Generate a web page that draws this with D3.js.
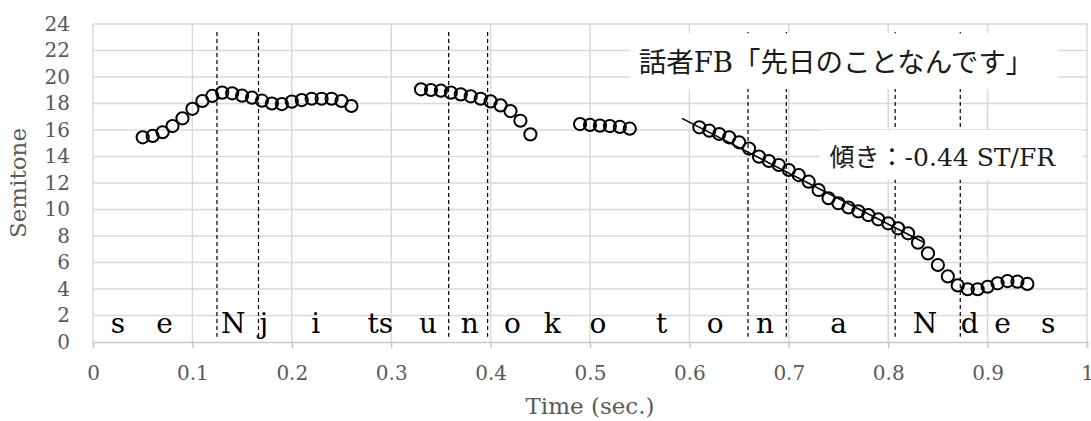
<!DOCTYPE html>
<html><head><meta charset="utf-8">
<script src="https://cdn.jsdelivr.net/npm/d3@7"></script>
<style>body{margin:0;background:#fff} svg{display:block}</style>
</head><body><svg id="c" width="1091" height="421"></svg>
<script>
const xTicks = [0, 0.1, 0.2, 0.3, 0.4, 0.5, 0.6, 0.7, 0.8, 0.9, 1];
const xTickLabels = ["0", "0.1", "0.2", "0.3", "0.4", "0.5", "0.6", "0.7", "0.8", "0.9", "1"];
const yTicks = [0, 2, 4, 6, 8, 10, 12, 14, 16, 18, 20, 22, 24];

const seg1Time = [0.05,0.06,0.07,0.08,0.09,0.10,0.11,0.12,0.13,0.14,0.15,0.16,0.17,0.18,0.19,0.20,0.21,0.22,0.23,0.24,0.25,0.26];
const seg1Pitch = [15.45,15.55,15.83,16.3,16.88,17.6,18.19,18.57,18.82,18.77,18.59,18.44,18.21,18.0,17.96,18.14,18.26,18.36,18.36,18.36,18.19,17.81];
const seg2Time = [0.33,0.34,0.35,0.36,0.37,0.38,0.39,0.40,0.41,0.42,0.43,0.44];
const seg2Pitch = [19.07,19.02,18.97,18.82,18.69,18.54,18.36,18.16,17.86,17.43,16.7,15.67];
const seg3Time = [0.49,0.50,0.51,0.52,0.53,0.54];
const seg3Pitch = [16.45,16.38,16.33,16.3,16.23,16.1];
const seg4Time = [0.61,0.62,0.63,0.64,0.65,0.66,0.67,0.68,0.69,0.70,0.71,0.72,0.73,0.74,0.75,0.76,0.77,0.78,0.79,0.80,0.81,0.82,0.83,0.84,0.85,0.86,0.87,0.88,0.89,0.90,0.91,0.92,0.93,0.94];
const seg4Pitch = [16.2,15.95,15.7,15.45,15.07,14.6,13.99,13.66,13.36,12.98,12.6,12.1,11.47,10.85,10.47,10.15,9.86,9.58,9.26,8.96,8.58,8.2,7.5,6.69,5.81,4.95,4.27,3.98,3.98,4.17,4.43,4.6,4.55,4.38];

const fitTime = [0.5925, 0.837];
const fitPitch = [16.88, 7.47];

const boundaries = [0.1247, 0.1665, 0.3578, 0.397, 0.659, 0.6975, 0.807, 0.8725];
const boundaryRange = [0.4, 23.4];

const phonemes = ["s","e","N","j","i","ts","u","n","o","k","o","t","o","n","a","N","d","e","s"];
const phonemeTimes = [0.025,0.072,0.141,0.172,0.224,0.289,0.337,0.379,0.422,0.462,0.508,0.572,0.626,0.676,0.75,0.837,0.882,0.915,0.961];
const phonemeLevel = 0.7;

const title = "話者FB「先日のことなんです」";
const slopeLabel = "傾き：-0.44 ST/FR";
const xTitle = "Time (sec.)";
const yTitle = "Semitone";

const svg = d3.select("#c");
const L = 93, R = 1087, T = 24, B = 342;
const x = d3.scaleLinear().domain([0, 1]).range([L, R]);
const y = d3.scaleLinear().domain([0, 24]).range([B, T]);
const serif = "'DejaVu Serif', 'Noto Sans CJK JP', serif";
const mixed = "'DejaVu Serif', 'Noto Sans CJK JP', serif";

// gridlines
const grid = svg.append("g");
grid.selectAll("line.h").data(yTicks.filter(d => d > 0)).join("line")
  .attr("x1", L).attr("x2", R).attr("y1", d => y(d)).attr("y2", d => y(d))
  .attr("stroke", "#d9d9d9").attr("stroke-width", 1.5);
grid.selectAll("line.v").data(xTicks).join("line")
  .attr("x1", d => x(d)).attr("x2", d => x(d)).attr("y1", T).attr("y2", B)
  .attr("stroke", "#d9d9d9").attr("stroke-width", 1.5);

// x axis
const xAxis = svg.append("g").attr("transform", `translate(0,${B})`)
  .call(d3.axisBottom(x).tickValues(xTicks).tickFormat((d, i) => xTickLabels[i]).tickSize(6).tickPadding(18));
xAxis.select(".domain").attr("stroke", "#c8c8c8").attr("stroke-width", 1.5);
xAxis.selectAll(".tick line").attr("stroke", "#c8c8c8").attr("stroke-width", 1.5);
xAxis.selectAll("text").attr("fill", "#595959").style("font-family", serif).style("font-size", "20px");

// y axis
const yAxis = svg.append("g").attr("transform", `translate(${L},0)`)
  .call(d3.axisLeft(y).tickValues(yTicks).tickSize(0).tickPadding(23));
yAxis.select(".domain").remove();
yAxis.selectAll("text").attr("fill", "#595959").style("font-family", serif).style("font-size", "20px");

// axis titles
svg.append("text").attr("x", x(0.5)).attr("y", 414).attr("text-anchor", "middle")
  .attr("fill", "#595959").style("font-family", serif).style("font-size", "23px").text(xTitle);
svg.append("text").attr("transform", `translate(26,${(T + B) / 2}) rotate(-90)`).attr("text-anchor", "middle")
  .attr("fill", "#595959").style("font-family", serif).style("font-size", "23px").text(yTitle);

// boundaries
svg.append("g").selectAll("line").data(boundaries).join("line")
  .attr("x1", d => x(d)).attr("x2", d => x(d))
  .attr("y1", y(boundaryRange[1])).attr("y2", y(boundaryRange[0]))
  .attr("stroke", "#000").attr("stroke-width", 1.2).attr("stroke-dasharray", "4,3");

// annotation boxes
const box1 = {x0: 0.540, x1: 0.971, y0: 23.3, y1: 19.1};
const box2 = {x0: 0.731, x1: 0.996, y0: 16.0, y1: 12.25};
[box1, box2].forEach(b => {
  svg.append("rect").attr("x", x(b.x0)).attr("y", y(b.y0))
    .attr("width", x(b.x1) - x(b.x0)).attr("height", y(b.y1) - y(b.y0)).attr("fill", "#fff");
});
svg.append("text").attr("x", x(box1.x0) + 9).attr("y", 72)
  .attr("fill", "#1a1a1a").style("font-family", mixed).style("font-size", "27.5px").text(title);
svg.append("text").attr("x", x(box2.x0) + 10).attr("y", 166)
  .attr("fill", "#1a1a1a").style("font-family", mixed).style("font-size", "25px").text(slopeLabel);

// phoneme labels
svg.append("g").selectAll("text").data(phonemes).join("text")
  .attr("x", (d, i) => x(phonemeTimes[i])).attr("y", y(phonemeLevel))
  .attr("text-anchor", "middle").attr("fill", "#000")
  .style("font-family", serif).style("font-size", "28px").text(d => d);

// regression line
svg.append("line").attr("x1", x(fitTime[0])).attr("y1", y(fitPitch[0]))
  .attr("x2", x(fitTime[1])).attr("y2", y(fitPitch[1]))
  .attr("stroke", "#000").attr("stroke-width", 1.5);

// points
const segs = [[seg1Time, seg1Pitch], [seg2Time, seg2Pitch], [seg3Time, seg3Pitch], [seg4Time, seg4Pitch]];
const pts = svg.append("g");
segs.forEach(([ts, ps]) => {
  pts.append("g").selectAll("circle").data(ts).join("circle")
    .attr("cx", d => x(d)).attr("cy", (d, i) => y(ps[i])).attr("r", 6.1)
    .attr("fill", "none").attr("stroke", "#000").attr("stroke-width", 2);
});
</script></body></html>
